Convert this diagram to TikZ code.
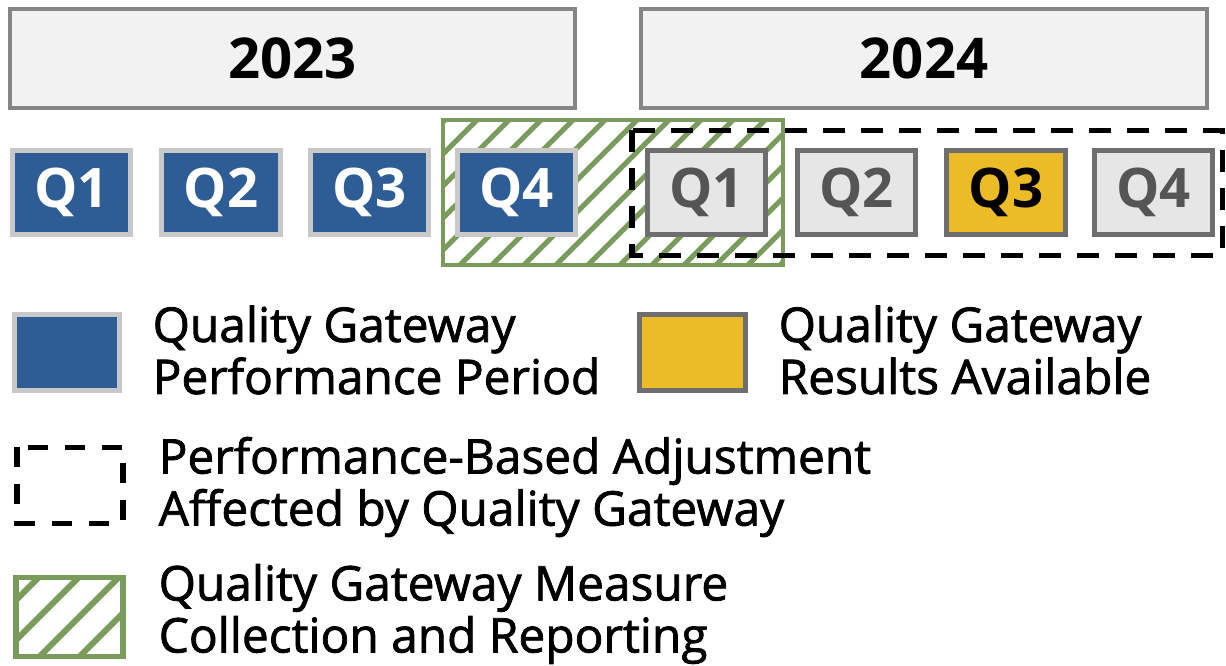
\documentclass[tikz,border=0pt]{standalone}
\usepackage{fontspec}
\setmainfont{Open Sans}
\newfontfamily\legfont{Open Sans}[FakeBold=1.6]
\usepackage{xcolor}
\usetikzlibrary{positioning}
\definecolor{cBlue}{HTML}{2E5D95}
\definecolor{cGold}{HTML}{EBBB28}
\definecolor{cGreen}{HTML}{7A9B5C}
\definecolor{cPale}{HTML}{C8C8C8}
\definecolor{cQGray}{HTML}{E6E6E6}
\definecolor{cQEdge}{HTML}{6E6E6E}
\definecolor{cQText}{HTML}{555555}
\definecolor{cYear}{HTML}{F2F2F2}
\definecolor{cYearEdge}{HTML}{858585}

\begin{document}
\begin{tikzpicture}[
  x=0.01cm, y=-0.01cm,
  year/.style={draw=cYearEdge, fill=cYear, line width=0.04cm,
               minimum width=5.65cm, minimum height=0.99cm,
               font=\fontsize{16}{18}\selectfont\bfseries},
  qbox/.style={line width=0.05cm, minimum width=1.18cm, minimum height=0.84cm,
               inner sep=0pt, font=\fontsize{15.5}{17}\selectfont\bfseries},
  past/.style={qbox, draw=cPale, fill=cBlue, text=white},
  next/.style={qbox, draw=cQEdge, fill=cQGray, text=cQText},
  gate/.style={qbox, draw=cQEdge, fill=cGold, text=black},
  swatch/.style={qbox, minimum width=1.05cm, minimum height=0.76cm},
  adjbox/.style={draw=black, line width=0.05cm, dash pattern=on 0.22cm off 0.16cm},
  hatch/.style={draw=cGreen, line width=0.05cm},
  legtext/.style={anchor=west, align=left, inner sep=0pt,
                  font=\legfont\fontsize{13.6}{14.8}\selectfont},
]
  \useasboundingbox (0,0) rectangle (1226,666);
  % years
  \node[year] (y23) at (292.5,58.5) {2023};
  \node[year] (y24) at (924,58.5) {2024};
  % measure collection window
  \begin{scope}
    \clip (443,120) rectangle (783,265);
    \fill[white] (443,120) rectangle (783,265);
    \foreach \k in {0,...,15} {
      \draw[hatch] ({300+\k*32},265) -- ++(150,-150);
    }
  \end{scope}
  \draw[cGreen, line width=0.045cm] (443,120) rectangle (783,265);
  % adjustment window
  \draw[adjbox] (632,130) rectangle (1222,255);
  % quarters
  \foreach \x [count=\i] in {71.5,221,369.5,516.5} {
    \node[past] (q23\i) at (\x,192.5) {Q\i};
  }
  \node[next] (q241) at (706.5,192.5) {Q1};
  \node[next] (q242) at (856.5,192.5) {Q2};
  \node[gate] (q243) at (1006,192.5) {Q3};
  \node[next] (q244) at (1153.5,192.5) {Q4};
  % legend
  \node[swatch, draw=cPale, fill=cBlue] (lperf) at (67,352.5) {};
  \node[legtext] (tperf) at (152,350) {Quality Gateway\\Performance Period};
  \node[swatch, draw=cQEdge, fill=cGold] (lres) at (692.5,352.5) {};
  \node[legtext] (tres) at (778,350) {Quality Gateway\\Results Available};
  \draw[adjbox, dash pattern=on 0.2cm off 0.17cm] (17,447) rectangle (123,523);
  \node[legtext] (tadj) at (158,487) {Performance-Based Adjustment\\Affected by Quality Gateway};
  \begin{scope}
    \clip (16,577) rectangle (123,656);
    \foreach \k in {0,...,4} {
      \draw[hatch, line width=0.06cm] ({-80+\k*40},656) -- ++(120,-120);
    }
  \end{scope}
  \draw[cGreen, line width=0.05cm] (16,577) rectangle (123,656);
  \node[legtext] (tgate) at (158,614) {Quality Gateway Measure\\Collection and Reporting};
\end{tikzpicture}
\end{document}
